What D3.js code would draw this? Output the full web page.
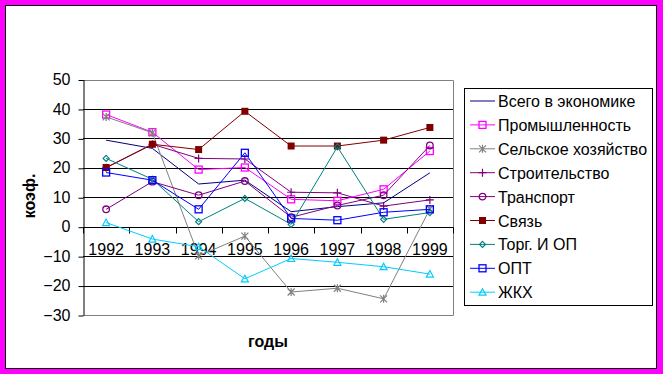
<!DOCTYPE html>
<html>
<head>
<meta charset="utf-8">
<script src="https://cdn.jsdelivr.net/npm/d3@7"></script>
<style>
  body { margin: 0; background: #fff; }
  svg { display: block; font-family: "Liberation Sans", Arial, sans-serif; }
</style>
</head>
<body>
<div id="plt"></div>
<script>
// data
var years = ["1992", "1993", "1994", "1995", "1996", "1997", "1998", "1999"];
var yTicks = [50, 40, 30, 20, 10, 0, -10, -20, -30];

var vsego      = [29.4, 26.6, 14.5, 15.8, 5.1, 6.8, 8.1, 18.3];
var prom       = [38.1, 32.1, 19.4, 20.1, 9.3, 8.8, 12.7, 25.7];
var selhoz     = [37.3, 31.9, -9.9, -3.2, -22.2, -20.9, -24.5, 6.0];
var stroit     = [20.0, 28.0, 23.2, 23.0, 11.7, 11.5, 7.0, 9.1];
var transport  = [5.9, 15.3, 10.7, 15.5, 3.2, 7.2, 10.7, 27.6];
var svyaz      = [20.1, 28.0, 26.2, 39.2, 27.4, 27.4, 29.4, 33.7];
var torg       = [23.2, 16.1, 1.7, 9.6, 0.8, 27.1, 2.5, 4.8];
var opt        = [18.4, 15.8, 5.9, 25.1, 2.8, 2.2, 4.9, 5.9];
var zhkh       = [1.4, -4.2, -6.8, -17.7, -10.8, -12.1, -13.6, -16.1];

var series = [
  {name: "Всего в экономике", values: vsego,     color: "#000080", marker: "none"},
  {name: "Промышленность",    values: prom,      color: "#FF00FF", marker: "square"},
  {name: "Сельское хозяйство", values: selhoz,   color: "#808080", marker: "star"},
  {name: "Строительство",     values: stroit,    color: "#800080", marker: "plus"},
  {name: "Транспорт",         values: transport, color: "#800080", marker: "circle"},
  {name: "Связь",             values: svyaz,     color: "#800000", marker: "fsquare"},
  {name: "Торг. И ОП",        values: torg,      color: "#008080", marker: "diamond"},
  {name: "ОПТ",               values: opt,       color: "#0000FF", marker: "square"},
  {name: "ЖКХ",               values: zhkh,      color: "#00CCFF", marker: "triangle"}
];

var W = 663, H = 374;
var plot = {left: 83, right: 453, top: 79.5, bottom: 315};
var fs = 16;

var svg = d3.select("#plt").append("svg")
  .attr("width", W).attr("height", H);

// magenta frame
svg.append("rect").attr("width", W).attr("height", H).attr("fill", "#FF00FF");
svg.append("rect")
  .attr("x", 5.5).attr("y", 5.5).attr("width", 651).attr("height", 363)
  .attr("fill", "#fff").attr("stroke", "#000").attr("stroke-width", 1);

var x = d3.scaleBand().domain(years).range([plot.left, plot.right]);
var y = d3.scaleLinear().domain([-30, 50]).range([plot.bottom, plot.top]);

// gridlines
svg.append("g").selectAll("line")
  .data(yTicks.filter(function(d) { return d !== 50 && d !== -30; }))
  .enter().append("line")
  .attr("x1", plot.left).attr("x2", plot.right)
  .attr("y1", function(d) { return Math.round(y(d)) + 0.5; })
  .attr("y2", function(d) { return Math.round(y(d)) + 0.5; })
  .attr("stroke", "#000");

// plot area border (gray)
svg.append("path")
  .attr("d", "M" + plot.left + "," + (Math.round(y(50)) + 0.5) +
             "H" + (plot.right + 0.5) +
             "V" + (Math.round(y(-30)) + 0.5) +
             "H" + plot.left)
  .attr("fill", "none").attr("stroke", "#808080");

// y axis
var yAxis = svg.append("g")
  .attr("transform", "translate(" + (plot.left + 0.5) + ",0)")
  .call(d3.axisLeft(y).tickValues(yTicks).tickSize(5).tickPadding(8).tickSizeOuter(0));
yAxis.select(".domain").attr("stroke", "#000");
yAxis.selectAll(".tick line").attr("stroke", "#000")
  .attr("transform", "translate(0,0.5)");
yAxis.selectAll("text").attr("font-size", fs).attr("fill", "#000")
  .attr("font-family", "Liberation Sans, Arial, sans-serif");

// x axis at zero
var y0 = Math.round(y(0)) + 0.5;
svg.append("g").selectAll("line")
  .data(years.concat(["end"]))
  .enter().append("line")
  .attr("x1", function(d) { return d === "end" ? plot.right + 0.5 : Math.round(x(d)) + 0.5; })
  .attr("x2", function(d) { return d === "end" ? plot.right + 0.5 : Math.round(x(d)) + 0.5; })
  .attr("y1", y0).attr("y2", y0 + 6)
  .attr("stroke", "#000");
svg.append("line")
  .attr("x1", plot.left).attr("x2", plot.right + 0.5)
  .attr("y1", y0).attr("y2", y0).attr("stroke", "#000");

svg.append("g").selectAll("text")
  .data(years).enter().append("text")
  .attr("x", function(d) { return x(d) + x.bandwidth() / 2; })
  .attr("y", 255)
  .attr("text-anchor", "middle")
  .attr("font-size", fs)
  .text(function(d) { return d; });

// lines
var line = d3.line()
  .x(function(d, i) { return x(years[i]) + x.bandwidth() / 2; })
  .y(function(d) { return y(d); });

var sg = svg.append("g").selectAll("g")
  .data(series).enter().append("g");

sg.append("path")
  .attr("d", function(s) { return line(s.values); })
  .attr("fill", "none")
  .attr("stroke", function(s) { return s.color; })
  .attr("stroke-width", 1);

function drawMarker(g, type, color, cx, cy) {
  if (type === "square") {
    g.append("rect").attr("x", cx - 3.5).attr("y", cy - 3.5).attr("width", 7).attr("height", 7)
      .attr("fill", "none").attr("stroke", color).attr("stroke-width", 1.3);
  } else if (type === "fsquare") {
    g.append("rect").attr("x", cx - 3.5).attr("y", cy - 3.5).attr("width", 7).attr("height", 7)
      .attr("fill", color);
  } else if (type === "circle") {
    g.append("circle").attr("cx", cx).attr("cy", cy).attr("r", 3.3)
      .attr("fill", "none").attr("stroke", color).attr("stroke-width", 1.3);
  } else if (type === "plus") {
    g.append("path").attr("d", "M" + (cx - 4) + "," + cy + "H" + (cx + 4) + "M" + cx + "," + (cy - 4) + "V" + (cy + 4))
      .attr("stroke", color).attr("stroke-width", 1.2);
  } else if (type === "star") {
    g.append("path").attr("d", "M" + (cx - 3.5) + "," + (cy - 3.5) + "L" + (cx + 3.5) + "," + (cy + 3.5) +
        "M" + (cx + 3.5) + "," + (cy - 3.5) + "L" + (cx - 3.5) + "," + (cy + 3.5) +
        "M" + cx + "," + (cy - 4) + "V" + (cy + 4))
      .attr("stroke", color).attr("stroke-width", 1.2);
  } else if (type === "diamond") {
    g.append("path").attr("d", "M" + cx + "," + (cy - 3) + "L" + (cx + 3) + "," + cy + "L" + cx + "," + (cy + 3) + "L" + (cx - 3) + "," + cy + "Z")
      .attr("fill", "none").attr("stroke", color).attr("stroke-width", 1.2);
  } else if (type === "triangle") {
    g.append("path").attr("d", "M" + cx + "," + (cy - 3.5) + "L" + (cx + 3.5) + "," + (cy + 3) + "L" + (cx - 3.5) + "," + (cy + 3) + "Z")
      .attr("fill", "none").attr("stroke", color).attr("stroke-width", 1.2);
  }
}

sg.each(function(s) {
  var g = d3.select(this);
  s.values.forEach(function(v, i) {
    drawMarker(g, s.marker, s.color, x(years[i]) + x.bandwidth() / 2, y(v));
  });
});

// axis titles
svg.append("text")
  .attr("transform", "translate(35,196) rotate(-90)")
  .attr("text-anchor", "middle")
  .attr("font-size", fs).attr("font-weight", "bold")
  .text("коэф.");

svg.append("text")
  .attr("x", 268).attr("y", 347)
  .attr("text-anchor", "middle")
  .attr("font-size", fs).attr("font-weight", "bold")
  .text("годы");

// legend
var legend = svg.append("g");
legend.append("rect")
  .attr("x", 464.5).attr("y", 88.5).attr("width", 188).attr("height", 217)
  .attr("fill", "#fff").attr("stroke", "#000");

var li = legend.selectAll("g.item").data(series).enter().append("g")
  .attr("transform", function(d, i) { return "translate(0," + (101 + i * 23.9) + ")"; });
li.append("line")
  .attr("x1", 470).attr("x2", 495).attr("y1", 0).attr("y2", 0)
  .attr("stroke", function(s) { return s.color; });
li.each(function(s) {
  drawMarker(d3.select(this), s.marker, s.color, 482.5, 0);
});
li.append("text")
  .attr("x", 498).attr("y", 6)
  .attr("font-size", fs)
  .text(function(s) { return s.name; });
</script>
</body>
</html>
